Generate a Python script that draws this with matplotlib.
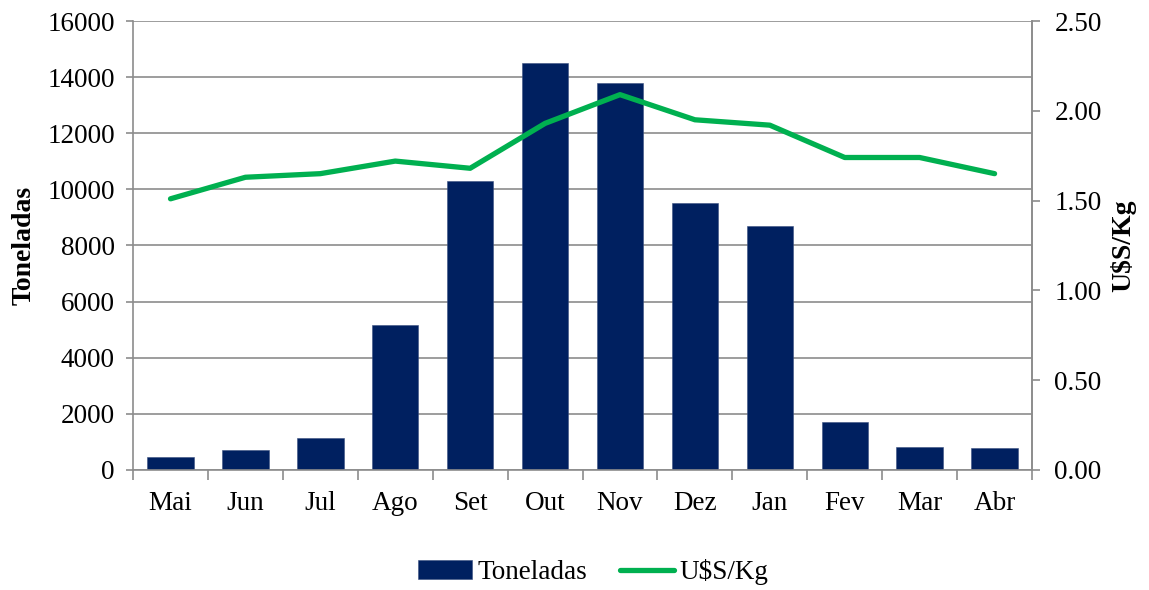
import matplotlib.pyplot as plt
import numpy as np

plt.rcParams['font.family'] = ['Liberation Serif', 'DejaVu Serif']

meses = ['Mai', 'Jun', 'Jul', 'Ago', 'Set', 'Out', 'Nov', 'Dez', 'Jan', 'Fev', 'Mar', 'Abr']
toneladas = [480, 700, 1150, 5170, 10300, 14500, 13800, 9500, 8700, 1700, 820, 790]
preco = [1.51, 1.63, 1.65, 1.72, 1.68, 1.93, 2.09, 1.95, 1.92, 1.74, 1.74, 1.65]

bar_color = '#002060'
line_color = '#00B050'
grid_color = '#8c8c8c'
fs = 19.5

fig = plt.figure(figsize=(11.49, 5.90), dpi=100)
ax = fig.add_axes([0.1158, 0.2034, 0.7824, 0.761])
x = np.arange(len(meses))

bars = ax.bar(x, toneladas, width=0.62, color=bar_color, edgecolor='#3a4f80', linewidth=0.4,
              label='Toneladas', zorder=2)
ax.set_xlim(-0.5, len(meses) - 0.5)
ax.set_ylim(0, 16000)
ax.set_yticks(np.arange(0, 16001, 2000))
ax.yaxis.grid(True, color=grid_color, linewidth=1.2)
ax.set_axisbelow(True)

# category boundaries get the tick marks, centers get the labels
ax.set_xticks(np.arange(-0.5, len(meses), 1.0))
ax.set_xticklabels([])
ax.set_xticks(x, minor=True)
ax.set_xticklabels(meses, minor=True, fontsize=fs)
ax.tick_params(axis='x', which='major', length=7, width=1.2, color=grid_color, direction='out')
ax.tick_params(axis='x', which='minor', length=0, pad=15)
ax.tick_params(axis='y', length=5, width=1.2, color=grid_color, labelsize=fs, pad=8)

for side in ['left', 'bottom', 'right']:
    ax.spines[side].set_color(grid_color)
    ax.spines[side].set_linewidth(1.2)
ax.spines['top'].set_visible(False)
ax.set_ylabel('Toneladas', fontsize=20, fontweight='bold', labelpad=8)

ax2 = ax.twinx()
line, = ax2.plot(x, preco, color=line_color, linewidth=3.8, solid_capstyle='round',
                 label='U$S/Kg', zorder=3)
ax2.set_ylim(0, 2.5)
ax2.set_yticks(np.arange(0, 2.51, 0.5))
ax2.set_yticklabels([f'{v:.2f}' for v in np.arange(0, 2.51, 0.5)])
ax2.tick_params(axis='y', length=6, width=1.2, color=grid_color, labelsize=fs, pad=10)
for side in ['left', 'bottom', 'top']:
    ax2.spines[side].set_visible(False)
ax2.spines['right'].set_color(grid_color)
ax2.spines['right'].set_linewidth(1.2)
ax2.set_ylabel('U$S/Kg', fontsize=20, fontweight='bold', labelpad=6)

fig.legend([bars, line], ['Toneladas', 'U$S/Kg'], loc='center', bbox_to_anchor=(0.516, 0.03),
           ncol=2, frameon=False, fontsize=fs, handlelength=2.0, handletextpad=0.2,
           columnspacing=1.2)

fig.savefig('out.png', dpi=100)
